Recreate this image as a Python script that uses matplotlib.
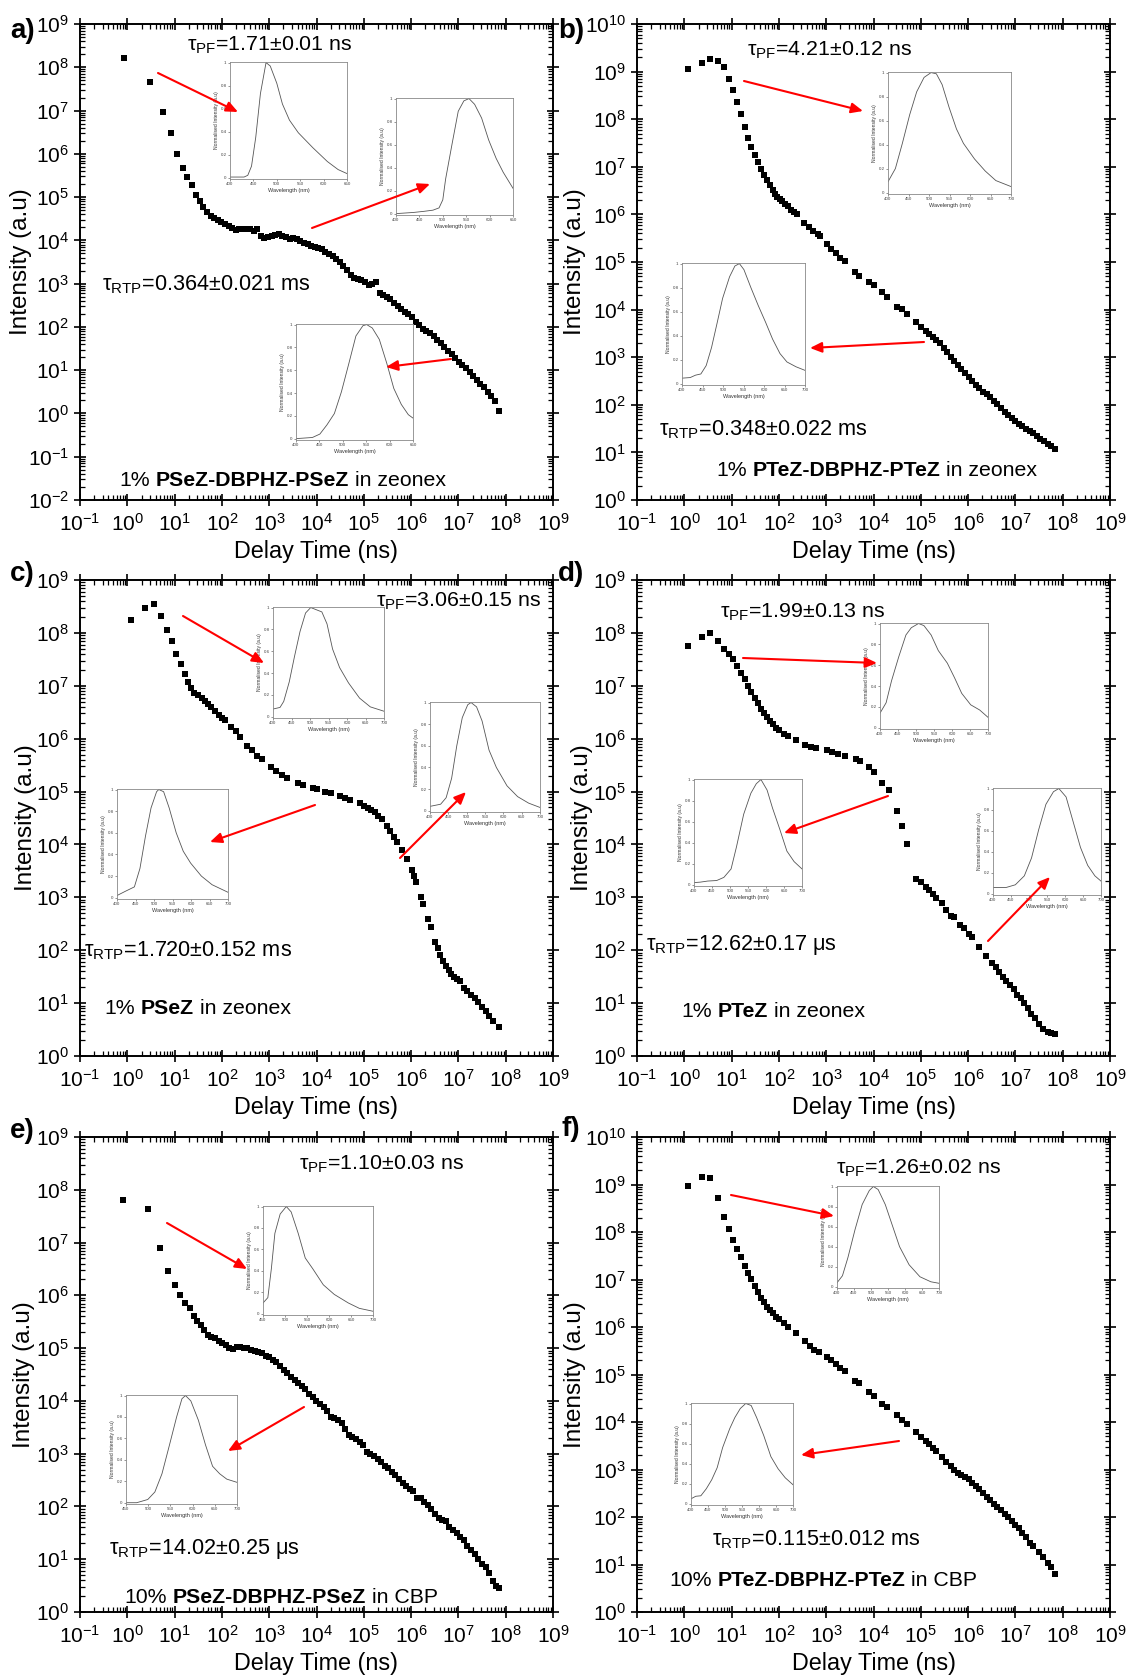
import numpy as np
import matplotlib
matplotlib.use('Agg')
import matplotlib.pyplot as plt
from matplotlib import ticker
from matplotlib.patches import FancyArrowPatch

plt.rcParams['font.family'] = ['Liberation Sans', 'DejaVu Sans']
plt.rcParams['mathtext.fontset'] = 'custom'
plt.rcParams['mathtext.rm'] = 'Liberation Sans'
plt.rcParams['mathtext.it'] = 'Liberation Sans:italic'
plt.rcParams['mathtext.bf'] = 'Liberation Sans:bold'
plt.rcParams['mathtext.default'] = 'regular'

# decay curves: log10(delay time / ns) and log10(intensity)
a_logt = [-0.08, 0.49, 0.75, 0.93, 1.06, 1.18, 1.27, 1.37, 1.46, 1.53, 1.61, 1.68, 1.76, 1.84, 1.91, 1.99,
          2.07, 2.14, 2.22, 2.29, 2.37, 2.45, 2.52, 2.60, 2.67, 2.75, 2.83, 2.90, 2.98, 3.05, 3.13, 3.21,
          3.28, 3.36, 3.43, 3.51, 3.59, 3.66, 3.74, 3.81, 3.89, 3.97, 4.04, 4.12, 4.19, 4.27, 4.35, 4.42,
          4.50, 4.57, 4.65, 4.73, 4.80, 4.88, 4.95, 5.03, 5.11, 5.18, 5.26, 5.34, 5.41, 5.49, 5.56, 5.64,
          5.72, 5.79, 5.87, 5.94, 6.02, 6.10, 6.17, 6.25, 6.32, 6.40, 6.48, 6.55, 6.63, 6.70, 6.78, 6.86,
          6.93, 7.01, 7.08, 7.16, 7.24, 7.31, 7.39, 7.46, 7.54, 7.62, 7.69, 7.77, 7.86]
a_logI = [8.22, 7.67, 6.97, 6.47, 6.00, 5.68, 5.46, 5.27, 5.05, 4.91, 4.76, 4.66, 4.57, 4.51, 4.47, 4.42,
          4.37, 4.34, 4.28, 4.24, 4.26, 4.26, 4.27, 4.26, 4.22, 4.27, 4.09, 4.06, 4.07, 4.10, 4.12, 4.14,
          4.11, 4.07, 4.03, 4.05, 4.03, 3.99, 3.94, 3.91, 3.87, 3.84, 3.83, 3.80, 3.74, 3.68, 3.64, 3.58,
          3.51, 3.41, 3.31, 3.20, 3.14, 3.11, 3.08, 3.03, 2.98, 3.00, 3.03, 2.79, 2.73, 2.69, 2.64, 2.56,
          2.49, 2.41, 2.35, 2.29, 2.22, 2.12, 2.04, 1.95, 1.91, 1.85, 1.79, 1.70, 1.62, 1.54, 1.45, 1.37,
          1.29, 1.20, 1.12, 1.04, 0.95, 0.87, 0.77, 0.68, 0.60, 0.50, 0.41, 0.29, 0.06]

b_logt = [0.07, 0.38, 0.55, 0.71, 0.83, 0.94, 1.03, 1.12, 1.20, 1.28, 1.35, 1.42, 1.49, 1.56, 1.62, 1.69,
          1.75, 1.81, 1.87, 1.91, 1.97, 2.02, 2.07, 2.13, 2.19, 2.25, 2.31, 2.38, 2.54, 2.64, 2.73, 2.82,
          2.86, 3.01, 3.11, 3.21, 3.30, 3.40, 3.60, 3.70, 3.90, 4.00, 4.19, 4.29, 4.50, 4.60, 4.70, 4.90,
          5.00, 5.10, 5.18, 5.25, 5.33, 5.40, 5.48, 5.56, 5.63, 5.71, 5.78, 5.86, 5.94, 6.01, 6.09, 6.16,
          6.24, 6.32, 6.39, 6.47, 6.54, 6.62, 6.70, 6.77, 6.85, 6.92, 7.00, 7.08, 7.15, 7.23, 7.30, 7.38,
          7.46, 7.53, 7.61, 7.68, 7.76, 7.84]
b_logI = [9.05, 9.18, 9.27, 9.22, 9.10, 8.84, 8.61, 8.36, 8.11, 7.83, 7.60, 7.41, 7.25, 7.10, 6.96, 6.82,
          6.73, 6.62, 6.51, 6.43, 6.37, 6.33, 6.28, 6.22, 6.17, 6.10, 6.04, 6.00, 5.82, 5.73, 5.65, 5.58,
          5.55, 5.37, 5.27, 5.18, 5.09, 5.02, 4.80, 4.71, 4.58, 4.52, 4.37, 4.27, 4.06, 4.01, 3.91, 3.74,
          3.63, 3.54, 3.48, 3.42, 3.37, 3.29, 3.19, 3.10, 3.01, 2.93, 2.84, 2.76, 2.67, 2.59, 2.51, 2.42,
          2.35, 2.27, 2.23, 2.16, 2.08, 2.01, 1.93, 1.85, 1.78, 1.73, 1.66, 1.60, 1.55, 1.50, 1.45, 1.40,
          1.35, 1.29, 1.23, 1.17, 1.14, 1.07]

c_logt = [0.08, 0.38, 0.56, 0.72, 0.84, 0.94, 1.04, 1.13, 1.21, 1.28, 1.35, 1.42, 1.49, 1.57, 1.64, 1.71,
          1.78, 1.86, 1.93, 2.01, 2.07, 2.20, 2.29, 2.38, 2.54, 2.64, 2.74, 2.85, 3.04, 3.15, 3.27, 3.38,
          3.61, 3.71, 3.92, 4.02, 4.18, 4.30, 4.50, 4.60, 4.70, 4.91, 5.00, 5.08, 5.15, 5.23, 5.30, 5.38,
          5.48, 5.56, 5.63, 5.71, 5.81, 5.91, 6.01, 6.06, 6.11, 6.21, 6.26, 6.36, 6.42, 6.51, 6.56, 6.62,
          6.68, 6.74, 6.80, 6.85, 6.90, 6.97, 7.03, 7.12, 7.19, 7.27, 7.35, 7.42, 7.50, 7.58, 7.65, 7.74,
          7.85]
c_logI = [8.25, 8.47, 8.54, 8.32, 8.06, 7.84, 7.61, 7.41, 7.22, 7.08, 6.96, 6.87, 6.82, 6.76, 6.71, 6.65,
          6.59, 6.52, 6.45, 6.40, 6.36, 6.22, 6.14, 6.04, 5.87, 5.78, 5.68, 5.61, 5.46, 5.39, 5.31, 5.25,
          5.16, 5.12, 5.07, 5.05, 5.00, 4.98, 4.91, 4.88, 4.84, 4.78, 4.73, 4.69, 4.66, 4.61, 4.54, 4.49,
          4.35, 4.25, 4.15, 4.05, 3.89, 3.73, 3.52, 3.40, 3.29, 3.01, 2.87, 2.59, 2.44, 2.16, 2.04, 1.91,
          1.80, 1.70, 1.62, 1.55, 1.50, 1.45, 1.42, 1.29, 1.22, 1.16, 1.09, 1.02, 0.92, 0.85, 0.76, 0.67,
          0.54]

d_logt = [0.07, 0.38, 0.55, 0.71, 0.83, 0.94, 1.03, 1.12, 1.20, 1.28, 1.35, 1.42, 1.49, 1.56, 1.62, 1.69,
          1.75, 1.81, 1.88, 1.94, 2.01, 2.10, 2.19, 2.36, 2.55, 2.67, 2.78, 3.01, 3.12, 3.24, 3.39, 3.62,
          3.72, 3.91, 4.01, 4.19, 4.32, 4.50, 4.60, 4.70, 4.90, 5.00, 5.10, 5.18, 5.25, 5.33, 5.44, 5.53,
          5.63, 5.71, 5.82, 5.91, 6.01, 6.09, 6.24, 6.37, 6.51, 6.58, 6.66, 6.73, 6.81, 6.89, 6.96, 7.04,
          7.11, 7.19, 7.27, 7.34, 7.42, 7.49, 7.59, 7.68, 7.76, 7.84]
d_logI = [7.75, 7.92, 8.00, 7.84, 7.70, 7.60, 7.50, 7.38, 7.24, 7.12, 6.99, 6.88, 6.77, 6.67, 6.57, 6.48,
          6.41, 6.34, 6.27, 6.21, 6.16, 6.09, 6.05, 5.97, 5.88, 5.84, 5.82, 5.78, 5.75, 5.71, 5.68, 5.61,
          5.58, 5.46, 5.37, 5.17, 5.03, 4.64, 4.35, 4.01, 3.35, 3.29, 3.20, 3.13, 3.06, 2.99, 2.89, 2.76,
          2.65, 2.62, 2.48, 2.42, 2.31, 2.25, 2.06, 1.89, 1.76, 1.68, 1.58, 1.50, 1.42, 1.34, 1.27, 1.16,
          1.09, 1.00, 0.90, 0.80, 0.71, 0.61, 0.51, 0.46, 0.44, 0.41]

e_logt = [-0.10, 0.43, 0.69, 0.86, 1.00, 1.12, 1.22, 1.32, 1.40, 1.48, 1.55, 1.63, 1.71, 1.78, 1.86, 1.93,
          2.01, 2.09, 2.16, 2.24, 2.32, 2.39, 2.47, 2.54, 2.62, 2.70, 2.77, 2.85, 2.93, 3.00, 3.08, 3.15,
          3.23, 3.31, 3.38, 3.46, 3.54, 3.61, 3.69, 3.76, 3.84, 3.92, 3.99, 4.07, 4.15, 4.22, 4.30, 4.37,
          4.45, 4.53, 4.60, 4.68, 4.76, 4.83, 4.91, 4.98, 5.06, 5.14, 5.21, 5.29, 5.36, 5.44, 5.52, 5.59,
          5.67, 5.75, 5.82, 5.90, 5.97, 6.05, 6.13, 6.20, 6.28, 6.36, 6.43, 6.51, 6.58, 6.66, 6.74, 6.81,
          6.89, 6.97, 7.04, 7.12, 7.19, 7.27, 7.35, 7.42, 7.50, 7.58, 7.65, 7.73, 7.80, 7.85]
e_logI = [7.80, 7.64, 6.90, 6.47, 6.19, 6.01, 5.86, 5.76, 5.61, 5.52, 5.43, 5.34, 5.24, 5.22, 5.19, 5.13,
          5.09, 5.05, 5.00, 4.98, 5.02, 5.02, 5.00, 5.00, 4.97, 4.95, 4.92, 4.90, 4.86, 4.83, 4.78, 4.73,
          4.66, 4.59, 4.52, 4.45, 4.39, 4.34, 4.29, 4.22, 4.13, 4.07, 4.00, 3.94, 3.88, 3.81, 3.70, 3.68,
          3.64, 3.59, 3.47, 3.36, 3.32, 3.28, 3.23, 3.16, 3.03, 3.00, 2.96, 2.89, 2.84, 2.77, 2.72, 2.66,
          2.59, 2.52, 2.45, 2.38, 2.33, 2.30, 2.16, 2.16, 2.09, 2.02, 1.95, 1.85, 1.78, 1.75, 1.72, 1.61,
          1.55, 1.50, 1.43, 1.36, 1.25, 1.17, 1.09, 1.00, 0.91, 0.85, 0.73, 0.59, 0.50, 0.45]

f_logt = [0.07, 0.38, 0.55, 0.71, 0.83, 0.94, 1.03, 1.12, 1.20, 1.28, 1.35, 1.42, 1.49, 1.56, 1.62, 1.69,
          1.75, 1.81, 1.88, 1.94, 2.01, 2.10, 2.19, 2.36, 2.55, 2.65, 2.74, 2.84, 3.01, 3.11, 3.21, 3.30,
          3.40, 3.60, 3.70, 3.90, 4.00, 4.19, 4.29, 4.50, 4.60, 4.70, 4.90, 5.00, 5.10, 5.18, 5.25, 5.33,
          5.44, 5.53, 5.63, 5.71, 5.78, 5.86, 5.94, 6.01, 6.09, 6.16, 6.24, 6.32, 6.39, 6.47, 6.54, 6.62,
          6.70, 6.77, 6.85, 6.92, 7.00, 7.08, 7.15, 7.23, 7.30, 7.38, 7.49, 7.59, 7.68, 7.76, 7.84]
f_logI = [8.96, 9.15, 9.14, 8.71, 8.31, 8.06, 7.84, 7.64, 7.47, 7.29, 7.14, 7.01, 6.86, 6.73, 6.62, 6.52,
          6.43, 6.35, 6.29, 6.22, 6.16, 6.08, 6.01, 5.88, 5.70, 5.61, 5.52, 5.48, 5.37, 5.30, 5.22, 5.14,
          5.07, 4.87, 4.82, 4.64, 4.55, 4.38, 4.31, 4.14, 4.04, 3.95, 3.78, 3.68, 3.61, 3.53, 3.46, 3.38,
          3.27, 3.15, 3.08, 3.00, 2.93, 2.89, 2.85, 2.80, 2.72, 2.66, 2.59, 2.50, 2.42, 2.35, 2.28, 2.22,
          2.15, 2.07, 2.00, 1.91, 1.83, 1.76, 1.66, 1.57, 1.45, 1.39, 1.26, 1.15, 1.04, 0.95, 0.81]

# normalised emission spectra shown in the insets (wavelength nm, intensity)
a_pf_nm = [400, 430, 438, 446, 455, 465, 477, 486, 500, 512, 527, 546, 577, 608, 631, 650]
a_pf_int = [0.005, 0.005, 0.02, 0.10, 0.35, 0.73, 1.00, 0.97, 0.82, 0.64, 0.50, 0.39, 0.26, 0.14, 0.07, 0.035]
a_dl_nm = [400, 437, 460, 479, 492, 500, 506, 520, 533, 545, 556, 568, 583, 598, 614, 629, 650]
a_dl_int = [0.0, 0.01, 0.02, 0.03, 0.05, 0.12, 0.30, 0.61, 0.89, 0.98, 1.00, 0.95, 0.83, 0.64, 0.48, 0.36, 0.22]
a_ph_nm = [400, 435, 451, 466, 482, 497, 513, 528, 543, 551, 563, 578, 594, 609, 625, 640, 650]
a_ph_int = [0.0, 0.01, 0.04, 0.12, 0.22, 0.41, 0.66, 0.90, 0.99, 1.00, 0.97, 0.87, 0.66, 0.44, 0.30, 0.21, 0.18]

b_pf_nm = [400, 418, 435, 453, 470, 488, 505, 518, 532, 549, 567, 584, 611, 637, 663, 700]
b_pf_int = [0.09, 0.20, 0.41, 0.65, 0.84, 0.96, 1.00, 0.99, 0.90, 0.71, 0.53, 0.41, 0.28, 0.18, 0.10, 0.05]
b_ph_nm = [400, 420, 433, 446, 459, 472, 486, 499, 516, 529, 540, 551, 568, 586, 604, 621, 639, 656, 678, 700]
b_ph_int = [0.045, 0.05, 0.07, 0.08, 0.15, 0.30, 0.51, 0.71, 0.89, 0.98, 1.00, 0.95, 0.80, 0.65, 0.51, 0.37,
            0.25, 0.18, 0.14, 0.11]

c_pf_nm = [400, 419, 429, 444, 458, 473, 488, 502, 517, 532, 546, 561, 580, 604, 634, 663, 700]
c_pf_int = [0.07, 0.085, 0.14, 0.32, 0.55, 0.78, 0.95, 1.00, 0.98, 0.96, 0.85, 0.62, 0.45, 0.31, 0.17, 0.09, 0.05]
c_ph_nm = [400, 429, 444, 459, 473, 488, 503, 512, 527, 542, 561, 581, 610, 639, 669, 700]
c_ph_int = [0.04, 0.06, 0.12, 0.30, 0.60, 0.86, 0.98, 1.00, 0.96, 0.83, 0.56, 0.40, 0.23, 0.13, 0.07, 0.03]
c_dl_nm = [400, 423, 447, 462, 477, 492, 507, 513, 526, 541, 560, 579, 599, 628, 657, 700]
c_dl_int = [0.02, 0.06, 0.10, 0.27, 0.57, 0.83, 0.98, 1.00, 0.98, 0.83, 0.60, 0.43, 0.32, 0.20, 0.12, 0.05]

d_pf_nm = [400, 417, 432, 452, 472, 487, 507, 522, 542, 562, 587, 607, 627, 652, 677, 700]
d_pf_int = [0.14, 0.24, 0.45, 0.68, 0.89, 0.96, 1.00, 0.98, 0.89, 0.74, 0.62, 0.48, 0.33, 0.22, 0.17, 0.10]
d_dl_nm = [400, 418, 438, 463, 483, 503, 518, 538, 558, 573, 586, 603, 618, 638, 658, 678, 700]
d_dl_int = [0.02, 0.025, 0.035, 0.04, 0.07, 0.15, 0.36, 0.67, 0.87, 0.96, 1.00, 0.90, 0.73, 0.53, 0.32, 0.22, 0.15]
d_ph_nm = [400, 437, 462, 487, 507, 527, 547, 568, 583, 603, 623, 643, 663, 683, 700]
d_ph_int = [0.06, 0.06, 0.085, 0.17, 0.34, 0.61, 0.85, 0.97, 1.00, 0.92, 0.68, 0.44, 0.27, 0.17, 0.12]

e_pf_nm = [450, 461, 469, 477, 489, 503, 514, 530, 546, 563, 587, 612, 644, 669, 700]
e_pf_int = [0.10, 0.15, 0.42, 0.75, 0.93, 1.00, 0.95, 0.75, 0.52, 0.42, 0.27, 0.18, 0.10, 0.05, 0.023]
e_ph_nm = [450, 474, 499, 515, 531, 548, 564, 576, 584, 596, 613, 629, 645, 661, 677, 700]
e_ph_int = [0.0, 0.0, 0.03, 0.10, 0.27, 0.54, 0.80, 0.97, 1.00, 0.95, 0.77, 0.54, 0.34, 0.27, 0.22, 0.19]

f_pf_nm = [400, 416, 432, 453, 474, 495, 507, 521, 542, 563, 584, 612, 644, 676, 700]
f_pf_int = [0.04, 0.11, 0.29, 0.57, 0.82, 0.96, 1.00, 0.97, 0.82, 0.61, 0.40, 0.22, 0.10, 0.05, 0.035]
f_ph_nm = [400, 414, 429, 445, 461, 477, 493, 514, 529, 545, 561, 577, 593, 614, 635, 656, 677, 700]
f_ph_int = [0.05, 0.075, 0.08, 0.15, 0.24, 0.36, 0.56, 0.75, 0.86, 0.95, 1.00, 0.98, 0.86, 0.68, 0.47,
            0.35, 0.26, 0.19]

nm_400_650 = [400, 450, 500, 550, 600, 650]
nm_400_700 = [400, 450, 500, 550, 600, 650, 700]
nm_450_700 = [450, 500, 550, 600, 650, 700]

W, H = 1128, 1675  # output size in pixels
fig = plt.figure(figsize=(W / 100, H / 100), dpi=100)


def px_rect(x0, y0, x1, y1):
    return [x0 / W, 1 - y1 / H, (x1 - x0) / W, (y1 - y0) / H]


def px_xy(x, y):
    return (x / W, 1 - y / H)


def decay_axes(rect, logt, logI, ylim, ylab_x):
    ax = fig.add_axes(px_rect(*rect))
    ax.plot(10 ** np.array(logt), 10 ** np.array(logI), 's', color='black', ms=5, mew=0)
    ax.set_xscale('log')
    ax.set_yscale('log')
    ax.set_xlim(1e-1, 1e9)
    ax.set_ylim(*ylim)
    for axis in (ax.xaxis, ax.yaxis):
        axis.set_major_locator(ticker.LogLocator(base=10, numticks=20))
        axis.set_minor_locator(ticker.LogLocator(base=10, subs=np.arange(2, 10), numticks=200))
        axis.set_minor_formatter(ticker.NullFormatter())
    ax.tick_params(which='both', top=True, right=True, labelsize=15)
    ax.tick_params(which='major', direction='inout', length=8, width=1.2)
    ax.tick_params(which='minor', direction='in', length=3.5, width=0.9)
    ax.tick_params(axis='x', pad=5)
    ax.tick_params(axis='y', pad=4)
    for s in ax.spines.values():
        s.set_linewidth(1.4)
    ax.set_xlabel('Delay Time (ns)', fontsize=16.8)
    ax.set_ylabel('Intensity (a.u)', fontsize=17.5)
    ax.xaxis.set_label_coords(0.5, -0.084)
    ax.yaxis.set_label_coords(ylab_x, 0.5)
    return ax


def spectrum_inset(rect, nm, inten, xticks):
    ins = fig.add_axes(px_rect(*rect))
    ins.plot(nm, inten, color='#555555', lw=0.6)
    ins.set_xlim(xticks[0], xticks[-1])
    ins.set_ylim(-0.012, 1.005)
    ins.set_xticks(xticks)
    ins.set_yticks([0, 0.2, 0.4, 0.6, 0.8, 1])
    ins.set_yticklabels(['0', '0.2', '0.4', '0.6', '0.8', '1'])
    ins.tick_params(labelsize=3.2, length=1.5, width=0.4, pad=1, colors='#444444')
    for s in ins.spines.values():
        s.set_linewidth(0.6)
        s.set_color('#888888')
    ins.set_xlabel('Wavelength (nm)', fontsize=4, labelpad=1, color='#333333')
    ins.set_ylabel('Normalised Intensity (a.u)', fontsize=3.6, labelpad=1, color='#333333')
    return ins


def sample_label(ax, pos, parts, size=15.3):
    # "1% <bold name> in zeonex" as three pieces placed one after the other
    gap = 0.28 * size
    prev = fig.text(*px_xy(*pos), parts[0], fontsize=size, va='baseline', ha='left')
    for txt, w in ((parts[1], 'bold'), (parts[2], 'normal')):
        prev = ax.annotate(txt, xy=(1, 0), xycoords=prev, xytext=(gap, 0), textcoords='offset points',
                           fontsize=size, fontweight=w, ha='left', va='bottom')


panels = [
    dict(rect=(80, 24, 553, 500), t=a_logt, I=a_logI, ylim=(1e-2, 1e9), ylab=-0.101,
         letter='a)', letter_xy=(10, 31),
         pf=('1.71±0.01 ns', (187, 51)), rtp=('0.364±0.021 ms', (102, 290)),
         sample=(('1%', 'PSeZ-DBPHZ-PSeZ', 'in zeonex'), (119, 486)),
         insets=[((230, 62, 347, 179), a_pf_nm, a_pf_int, nm_400_650),
                 ((396, 98, 513, 215), a_dl_nm, a_dl_int, nm_400_650),
                 ((296, 324, 413, 440), a_ph_nm, a_ph_int, nm_400_650)],
         arrows=[((158, 73), (238, 112)), ((312, 228), (430, 184)), ((451, 359), (386, 367))]),
    dict(rect=(637, 24, 1110, 500), t=b_logt, I=b_logI, ylim=(1e0, 1e10), ylab=-0.108,
         letter='b)', letter_xy=(558, 31),
         pf=('4.21±0.12 ns', (747, 56)), rtp=('0.348±0.022 ms', (659, 435)),
         sample=(('1%', 'PTeZ-DBPHZ-PTeZ', 'in zeonex'), (716, 476)),
         insets=[((888, 72, 1011, 194), b_pf_nm, b_pf_int, nm_400_700),
                 ((682, 263, 805, 385), b_ph_nm, b_ph_int, nm_400_700)],
         arrows=[((744, 81), (863, 111)), ((924, 342), (810, 348))]),
    dict(rect=(80, 580, 553, 1056), t=c_logt, I=c_logI, ylim=(1e0, 1e9), ylab=-0.091,
         letter='c)', letter_xy=(10, 574),
         pf=('3.06±0.15 ns', (376, 607)), rtp=('1.720±0.152 ms', (84, 956)),
         sample=(('1%', 'PSeZ', 'in zeonex'), (104, 1014)),
         insets=[((273, 607, 384, 718), c_pf_nm, c_pf_int, nm_400_700),
                 ((430, 702, 540, 812), c_ph_nm, c_ph_int, nm_400_700),
                 ((117, 789, 228, 899), c_dl_nm, c_dl_int, nm_400_700)],
         arrows=[((183, 616), (264, 663)), ((315, 805), (210, 842)), ((400, 858), (466, 792))]),
    dict(rect=(637, 580, 1110, 1056), t=d_logt, I=d_logI, ylim=(1e0, 1e9), ylab=-0.092,
         letter='d)', letter_xy=(558, 574),
         pf=('1.99±0.13 ns', (720, 618)), rtp=('12.62±0.17 μs', (646, 950)),
         sample=(('1%', 'PTeZ', 'in zeonex'), (681, 1017)),
         insets=[((880, 623, 988, 729), d_pf_nm, d_pf_int, nm_400_700),
                 ((694, 779, 802, 886), d_dl_nm, d_dl_int, nm_400_700),
                 ((993, 788, 1101, 895), d_ph_nm, d_ph_int, nm_400_700)],
         arrows=[((743, 658), (877, 663)), ((888, 796), (784, 833)), ((988, 941), (1050, 877))]),
    dict(rect=(80, 1137, 553, 1612), t=e_logt, I=e_logI, ylim=(1e0, 1e9), ylab=-0.095,
         letter='e)', letter_xy=(10, 1131),
         pf=('1.10±0.03 ns', (299, 1170)), rtp=('14.02±0.25 μs', (109, 1554)),
         sample=(('10%', 'PSeZ-DBPHZ-PSeZ', 'in CBP'), (124, 1603)),
         insets=[((263, 1206, 373, 1315), e_pf_nm, e_pf_int, nm_450_700),
                 ((126, 1395, 237, 1504), e_ph_nm, e_ph_int, nm_450_700)],
         arrows=[((167, 1223), (247, 1269)), ((304, 1407), (228, 1451))]),
    dict(rect=(637, 1137, 1110, 1612), t=f_logt, I=f_logI, ylim=(1e0, 1e10), ylab=-0.108,
         letter='f)', letter_xy=(562, 1129),
         pf=('1.26±0.02 ns', (836, 1174)), rtp=('0.115±0.012 ms', (712, 1545)),
         sample=(('10%', 'PTeZ-DBPHZ-PTeZ', 'in CBP'), (669, 1586)),
         insets=[((837, 1186, 939, 1288), f_pf_nm, f_pf_int, nm_400_700),
                 ((691, 1403, 793, 1505), f_ph_nm, f_ph_int, nm_400_700)],
         arrows=[((731, 1195), (834, 1216)), ((899, 1441), (801, 1455))]),
]

for p in panels:
    ax = decay_axes(p['rect'], p['t'], p['I'], p['ylim'], p['ylab'])
    fig.text(*px_xy(*p['letter_xy']), p['letter'], fontsize=20, fontweight='bold', va='center', ha='left')
    fig.text(*px_xy(*p['pf'][1]), r'τ$_{PF}$=' + p['pf'][0], fontsize=15.4, va='baseline', ha='left')
    fig.text(*px_xy(*p['rtp'][1]), r'τ$_{RTP}$=' + p['rtp'][0], fontsize=15.6, va='baseline', ha='left')
    sample_label(ax, p['sample'][1], p['sample'][0])
    for rect, nm, inten, xt in p['insets']:
        spectrum_inset(rect, nm, inten, xt)
    for tail, head in p['arrows']:
        fig.add_artist(FancyArrowPatch(px_xy(*tail), px_xy(*head), transform=fig.transFigure,
                                       arrowstyle='-|>,head_length=0.5,head_width=0.22',
                                       mutation_scale=14, color='red', lw=1.5,
                                       shrinkA=0, shrinkB=0, zorder=5))

fig.savefig('out.png', dpi=100)
